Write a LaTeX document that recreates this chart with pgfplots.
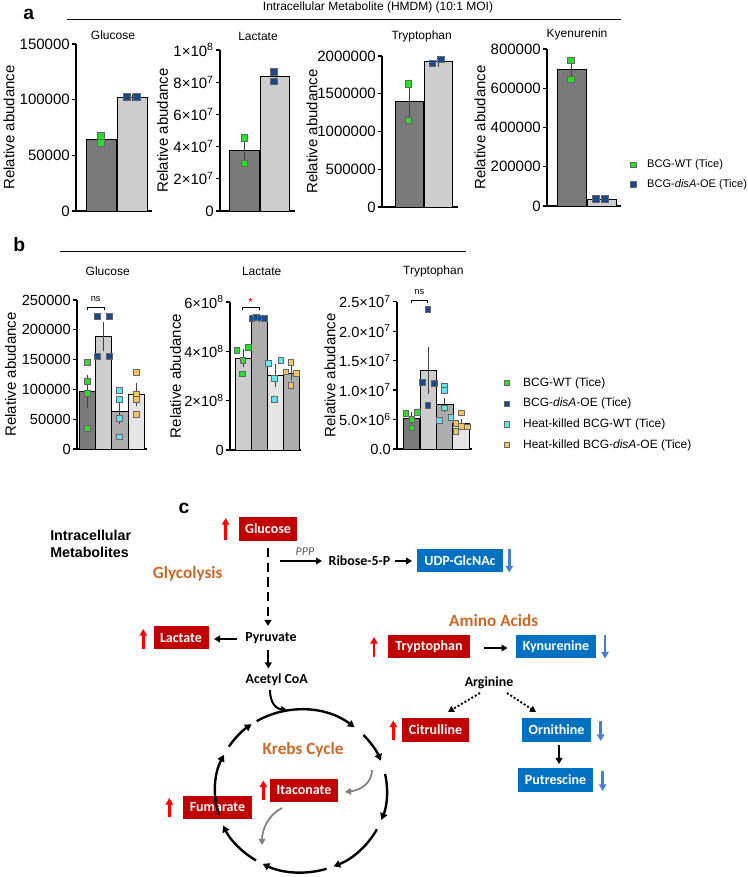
\documentclass[border=0pt]{standalone}
\usepackage{fontspec}
\setmainfont{Liberation Sans}
\newfontfamily\carl{Carlito}
\usepackage{pgfplots}
\pgfplotsset{compat=1.18}
\usetikzlibrary{arrows.meta}

\definecolor{gDark}{HTML}{7A7A7A}
\definecolor{gLight}{HTML}{CDCDCD}
\definecolor{gMid}{HTML}{ADADAD}
\definecolor{gVLight}{HTML}{E6E6E6}
\definecolor{cGreen}{RGB}{40,222,40}
\definecolor{cBlue}{RGB}{25,75,140}
\definecolor{cCyan}{RGB}{95,230,240}
\definecolor{cOrange}{RGB}{246,196,96}
\definecolor{boxRed}{HTML}{C00000}
\definecolor{boxBlue}{HTML}{0070C0}
\definecolor{upRed}{HTML}{FF0000}
\definecolor{dnBlue}{HTML}{4A7CD0}
\definecolor{txtOrange}{HTML}{C8692A}

\pgfplotsset{
  base/.style={scale only axis, anchor=south west, clip=false,
    axis x line*=bottom, axis y line*=left,
    axis line style={line width=0.9pt, black},
    xtick=\empty, ymin=0, xmin=0,
    tick align=outside, major tick length=3pt,
    every tick/.style={black, line width=0.9pt},
    yticklabel style={font=\fontsize{11.25}{12}\selectfont, inner sep=1.5pt},
  },
  ylab/.style={ylabel={Relative abudance},
    every axis y label/.style={at={(axis description cs:#1,0.5)}, rotate=90, anchor=center, font=\fontsize{11.25}{12}\selectfont}},
  errA/.style={forget plot, draw=none, mark=none, error bars/.cd, y dir=both, y explicit,
    error bar style={draw=black!75, line width=0.6pt},
    error mark options={draw=black!75, mark size=2.6pt, line width=0.6pt}},
  errB/.style={forget plot, draw=none, mark=none, error bars/.cd, y dir=both, y explicit,
    error bar style={draw=black!75, line width=0.5pt},
    error mark options={draw=black!75, mark size=2pt, line width=0.5pt}},
  ptA/.style={forget plot, only marks, mark=square*, mark size=2.5pt, mark options={fill=#1, draw=black!60, line width=0.4pt}},
  ptB/.style={forget plot, only marks, mark=square*, mark size=2.2pt, mark options={fill=#1, draw=black!60, line width=0.4pt}},
  barA/.style={forget plot, ybar, bar shift=0pt, fill=#1, draw=black, line width=0.6pt},
}

\begin{document}
\begin{tikzpicture}
\useasboundingbox (0,0) rectangle (561pt,657.75pt);

% ================= Panel a =================
\begin{axis}[base, at={(57pt,499.5pt)}, width=57pt, height=125.25pt,
  xmax=76, ymax=150, ytick={0,50,100,150}, yticklabels={0,50000,100000,150000}, ylab=-0.882]
\addplot[barA=gDark, bar width=22.5pt] coordinates {(25,64.25)};
\addplot[barA=gLight, bar width=22.5pt] coordinates {(56.5,102)};
\addplot[errA] coordinates {(25,64.25) +- (0,3.25) (56.5,102) +- (0,0.3)};
\addplot[ptA=cGreen] coordinates {(25,67.5) (25,61)};
\addplot[ptA=cBlue] coordinates {(50.7,102.5) (60.7,102.5)};
\end{axis}

\begin{axis}[base, at={(165pt,499.5pt)}, width=56.25pt, height=120.75pt,
  xmax=75, ymax=100, ytick={0,20,40,60,80,100},
  yticklabels={0,2×10\textsuperscript{7},4×10\textsuperscript{7},6×10\textsuperscript{7},8×10\textsuperscript{7},1×10\textsuperscript{8}}, ylab=-0.767]
\addplot[barA=gDark, bar width=22.1pt] coordinates {(24.5,37.55)};
\addplot[barA=gLight, bar width=22.1pt] coordinates {(55,83.45)};
\addplot[errA] coordinates {(24.5,37.55) +- (0,7.95) (55,83.45) +- (0,2.85)};
\addplot[ptA=cGreen] coordinates {(24.3,45.5) (24.3,29.6)};
\addplot[ptA=cBlue] coordinates {(54,86.3) (54,80.6)};
\end{axis}

\begin{axis}[base, at={(286.5pt,502.5pt)}, width=57pt, height=113.25pt,
  xmax=76, ymax=2000, ytick={0,500,1000,1500,2000},
  yticklabels={0,500000,1000000,1500000,2000000}, ylab=-0.921]
\addplot[barA=gDark, bar width=21pt] coordinates {(27,1393)};
\addplot[barA=gLight, bar width=21pt] coordinates {(56,1930)};
\addplot[errA] coordinates {(27,1393) +- (0,243) (56,1930) +- (0,25)};
\addplot[ptA=cGreen] coordinates {(26.3,1636) (26.3,1150)};
\addplot[ptA=cBlue] coordinates {(50.3,1905) (59,1955)};
\end{axis}

\begin{axis}[base, at={(410.25pt,503.25pt)}, width=55.5pt, height=117.75pt,
  xmax=74, ymax=800, ytick={0,200,400,600,800},
  yticklabels={0,200000,400000,600000,800000}, ylab=-0.905,
  legend style={draw=none, fill=none, at={(axis description cs:1.125,0.31)}, anchor=north west,
    font=\fontsize{8.3}{9.5}\selectfont, row sep=4.2pt, inner sep=0pt, nodes={inner sep=1.5pt},
    /tikz/every odd column/.append style={column sep=7pt}},
  legend cell align=left,
  legend image code/.code={\draw[#1] plot coordinates {(0pt,0pt)};}]
\addplot[barA=gDark, bar width=21.75pt] coordinates {(24.5,694.5)};
\addplot[barA=gLight, bar width=21.75pt] coordinates {(54.5,36)};
\addplot[errA] coordinates {(24.5,694.5) +- (0,48.5) (54.5,36) +- (0,1)};
\addplot[ptA=cGreen] coordinates {(24,743) (24,646)};
\addplot[ptA=cBlue] coordinates {(49,36) (58,36)};
\addlegendimage{only marks, mark=square*, mark size=2pt, mark options={fill=cGreen, draw=black!60, line width=0.4pt}}
\addlegendentry{BCG-WT (Tice)}
\addlegendimage{only marks, mark=square*, mark size=2pt, mark options={fill=cBlue, draw=black!60, line width=0.4pt}}
\addlegendentry{BCG-\textit{disA}-OE (Tice)}
\end{axis}

% ================= Panel b =================
\begin{axis}[base, at={(57.75pt,321pt)}, width=52.5pt, height=111.75pt,
  xmax=70, ymax=250, ytick={0,50,100,150,200,250},
  yticklabels={0,50000,100000,150000,200000,250000}, ylab=-0.95,
  yticklabel style={font=\fontsize{11}{12}\selectfont}]
\addplot[barA=gDark, bar width=12.2pt, line width=0.5pt] coordinates {(10.2,96.5)};
\addplot[barA=gLight, bar width=12.2pt, line width=0.5pt] coordinates {(26.5,189)};
\addplot[barA=gMid, bar width=12.2pt, line width=0.5pt] coordinates {(42.8,63.5)};
\addplot[barA=gVLight, bar width=12.2pt, line width=0.5pt] coordinates {(59.1,91)};
\addplot[errB] coordinates {(10.2,96.5) +- (0,23.1) (26.5,189) +- (0,19.6) (42.8,63.5) +- (0,17.3) (59.1,91) +- (0,14.5)};
\addplot[ptB=cGreen] coordinates {(10.3,145) (10.3,113) (10.3,93) (10.3,35)};
\addplot[ptB=cBlue] coordinates {(20.7,223) (32,223) (20.7,155) (32,155)};
\addplot[ptB=cCyan] coordinates {(42.3,98.3) (42.3,83.5) (42.3,51.6) (42.3,20.6)};
\addplot[ptB=cOrange] coordinates {(59,129) (59,92) (59,84) (59,58.8)};
\end{axis}

\begin{axis}[base, at={(172.5pt,320.25pt)}, width=53.25pt, height=111pt,
  xmax=71, ymax=6, ytick={0,2,4,6},
  yticklabels={0,2×10\textsuperscript{8},4×10\textsuperscript{8},6×10\textsuperscript{8}}, ylab=-0.768,
  yticklabel style={font=\fontsize{11}{12}\selectfont}]
\addplot[barA=gLight, bar width=12pt, line width=0.5pt] coordinates {(13,3.73)};
\addplot[barA=gMid, bar width=12pt, line width=0.5pt] coordinates {(29,5.33)};
\addplot[barA=gVLight, bar width=12pt, line width=0.5pt] coordinates {(45,3.03)};
\addplot[barA=gMid, bar width=12pt, line width=0.5pt] coordinates {(61,3.12)};
\addplot[errB] coordinates {(13,3.73) +- (0,0.243) (29,5.33) +- (0,0.015) (45,3.03) +- (0,0.358) (61,3.12) +- (0,0.19)};
\addplot[ptB=cGreen] coordinates {(6.7,4.04) (18.3,4.17) (12.7,3.63) (12.3,3.09)};
\addplot[ptB=cBlue] coordinates {(21.7,5.33) (26,5.39) (30,5.36) (34.3,5.33)};
\addplot[ptB=cCyan] coordinates {(38.3,3.51) (50.7,3.64) (44.3,2.91) (44.3,2.07)};
\addplot[ptB=cOrange] coordinates {(60.7,3.56) (55.7,3.17) (66,3.11) (60.7,2.63)};
\end{axis}

\begin{axis}[base, at={(297.75pt,321pt)}, width=56.25pt, height=110.5pt,
  xmax=75, ymax=25, ytick={0,5,10,15,20,25},
  yticklabels={0.0,5.0×10\textsuperscript{6},1.0×10\textsuperscript{7},1.5×10\textsuperscript{7},2.0×10\textsuperscript{7},2.5×10\textsuperscript{7}}, ylab=-0.893,
  yticklabel style={font=\fontsize{11}{12}\selectfont},
  legend style={draw=none, fill=none, at={(axis description cs:1.42,0.5)}, anchor=north west,
    font=\fontsize{9}{10.5}\selectfont, row sep=4.5pt, inner sep=0pt, nodes={inner sep=1.5pt},
    /tikz/every odd column/.append style={column sep=9pt}},
  legend cell align=left,
  legend image code/.code={\draw[#1] plot coordinates {(0pt,0pt)};}]
\addplot[barA=gDark, bar width=12.4pt, line width=0.5pt] coordinates {(14.3,5.24)};
\addplot[barA=gLight, bar width=12.4pt, line width=0.5pt] coordinates {(31.3,13.3)};
\addplot[barA=gMid, bar width=12.4pt, line width=0.5pt] coordinates {(47.7,7.5)};
\addplot[barA=gVLight, bar width=12.4pt, line width=0.5pt] coordinates {(64,4.3)};
\addplot[errB] coordinates {(14.3,5.24) +- (0,0.6) (31.3,13.3) +- (0,3.5) (47.7,7.5) +- (0,0.75) (64,4.3) +- (0,0.35)};
\addplot[ptB=cGreen] coordinates {(8.7,6.05) (20.3,6.22) (14.7,5.08) (14.7,3.61)};
\addplot[ptB=cBlue] coordinates {(30.7,23.68) (25.3,11.3) (37,11.14) (30.7,7.46)};
\addplot[ptB=cCyan] coordinates {(47.3,10.73) (47.3,10.0) (47.3,7.0) (42,4.92) (53.7,5.31)};
\addplot[ptB=cOrange] coordinates {(64,6.15) (58.7,4.35) (64,3.9) (70.3,3.78) (58.7,3.05)};
\addlegendimage{only marks, mark=square*, mark size=2pt, mark options={fill=cGreen, draw=black!60, line width=0.4pt}}
\addlegendentry{BCG-WT (Tice)}
\addlegendimage{only marks, mark=square*, mark size=2pt, mark options={fill=cBlue, draw=black!60, line width=0.4pt}}
\addlegendentry{BCG-\textit{disA}-OE (Tice)}
\addlegendimage{only marks, mark=square*, mark size=2pt, mark options={fill=cCyan, draw=black!60, line width=0.4pt}}
\addlegendentry{Heat-killed BCG-WT (Tice)}
\addlegendimage{only marks, mark=square*, mark size=2pt, mark options={fill=cOrange, draw=black!60, line width=0.4pt}}
\addlegendentry{Heat-killed BCG-\textit{disA}-OE (Tice)}
\end{axis}

% ================= Annotations & panel c (pixel coordinates) =================
\begin{scope}[x=0.75pt, y=-0.75pt, shift={(0pt,657.75pt)}]
% panel a header
\node[font=\bfseries\fontsize{14.5}{16}\selectfont, anchor=base west, inner sep=0pt] at (23,20) {a};
\draw[line width=1.1pt] (67,19.5) -- (621,19.5);
\node[font=\fontsize{9}{10}\selectfont, inner sep=0pt] at (378,7) {Intracellular Metabolite (HMDM) (10:1 MOI)};
\node[font=\fontsize{9}{10}\selectfont, inner sep=0pt] at (113,35.5) {Glucose};
\node[font=\fontsize{9}{10}\selectfont, inner sep=0pt] at (258,36) {Lactate};
\node[font=\fontsize{9}{10}\selectfont, inner sep=0pt] at (421.7,36) {Tryptophan};
\node[font=\fontsize{9}{10}\selectfont, inner sep=0pt] at (577,34) {Kyenurenin};
% panel b header
\node[font=\bfseries\fontsize{14.5}{16}\selectfont, anchor=base west, inner sep=0pt] at (13,251.5) {b};
\draw[line width=1.1pt] (60,251.5) -- (466,251.5);
\node[font=\fontsize{9}{10}\selectfont, inner sep=0pt] at (107.7,271.7) {Glucose};
\node[font=\fontsize{9}{10}\selectfont, inner sep=0pt] at (261.7,271.7) {Lactate};
\node[font=\fontsize{9}{10}\selectfont, inner sep=0pt] at (433.3,271.7) {Tryptophan};
% significance
\draw[line width=0.5pt] (87.3,310) -- (87.3,307.3) -- (104,307.3) -- (104,310);
\node[font=\fontsize{7}{8}\selectfont, inner sep=0pt] at (95.7,299.5) {ns};
\draw[line width=0.5pt] (242.3,310) -- (242.3,307.3) -- (259.3,307.3) -- (259.3,310);
\node[font=\fontsize{9}{10}\selectfont, text=red, inner sep=0pt] at (250.7,302.5) {*};
\draw[line width=0.5pt] (411,303) -- (411,300) -- (427.7,300) -- (427.7,303);
\node[font=\fontsize{7}{8}\selectfont, inner sep=0pt] at (419.3,292.5) {ns};

% ---------- panel c ----------
\tikzset{
  box/.style={text=white, font=\carl\bfseries\fontsize{10.5}{12}\selectfont, inner sep=0pt},
  rb/.style={box, fill=boxRed},
  bb/.style={box, fill=boxBlue},
  up/.style={upRed, line width=2pt, -{Triangle[length=5pt,width=5.5pt]}},
  dn/.style={dnBlue, line width=2pt, -{Triangle[length=5pt,width=5.5pt]}},
  blk/.style={black, line width=1.7pt, -{Triangle[length=4.5pt,width=5pt]}},
  lbl/.style={font=\carl\bfseries\fontsize{10.4}{12}\selectfont, inner sep=0pt},
  org/.style={font=\carl\bfseries\fontsize{12.9}{14}\selectfont, text=txtOrange, inner sep=0pt},
}
\node[font=\bfseries\fontsize{14.5}{16}\selectfont, anchor=base west, inner sep=0pt] at (178.3,513.3) {c};
\node[font=\bfseries\fontsize{10.7}{12}\selectfont, anchor=west, inner sep=0pt] at (50,535) {Intracellular};
\node[font=\bfseries\fontsize{10.7}{12}\selectfont, anchor=west, inner sep=0pt] at (50,552) {Metabolites};

\node[rb, minimum width=43.5pt, minimum height=18pt] at (268,529) {Glucose};
\node[rb, minimum width=41.25pt, minimum height=17.25pt] at (181,638) {Lactate};
\node[bb, minimum width=64.5pt, minimum height=17.25pt] at (460,561) {UDP-GlcNAc};
\node[rb, minimum width=61.5pt, minimum height=17.25pt] at (429,646.5) {Tryptophan};
\node[bb, minimum width=60pt, minimum height=17.25pt] at (556,646.5) {Kynurenine};
\node[rb, minimum width=50.25pt, minimum height=18pt] at (435.5,730) {Citrulline};
\node[bb, minimum width=51.75pt, minimum height=18pt] at (556.5,730) {Ornithine};
\node[bb, minimum width=56.25pt, minimum height=18pt] at (555.5,780) {Putrescine};
\node[rb, minimum width=51pt, minimum height=17.25pt] at (304,790.5) {Itaconate};
\node[rb, minimum width=51.75pt, minimum height=17.25pt] at (217.5,807.5) {Fumarate};

\draw[up] (225.7,540) -- (225.7,518);
\draw[up] (143.3,649) -- (143.3,629);
\draw[up] (374,657.5) -- (374,637);
\draw[up] (393.3,740) -- (393.3,720.5);
\draw[up] (263.3,800.5) -- (263.3,780.5);
\draw[up] (169.3,817.5) -- (169.3,798);
\draw[dn] (509.3,549) -- (509.3,572.5);
\draw[dn] (605,635) -- (605,658.5);
\draw[dn] (600.7,721) -- (600.7,741);
\draw[dn] (602.7,771) -- (602.7,791);

\node[org] at (187.7,574) {Glycolysis};
\node[org] at (303,750) {Krebs Cycle};
\node[org] at (493.7,621) {Amino Acids};
\node[font=\carl\itshape\fontsize{9}{10}\selectfont, text=black!65, inner sep=0pt] at (305,552) {PPP};
\node[lbl] at (359.5,561) {Ribose-5-P};
\node[lbl] at (271,637.7) {Pyruvate};
\node[lbl] at (276.7,680) {Acetyl CoA};
\node[lbl] at (489,682.7) {Arginine};

\draw[blk] (280,561) -- (322,561);
\draw[blk] (395,561) -- (412,561);
\draw[blk] (237,639) -- (214,639);
\draw[blk] (268.3,650) -- (268.3,668.5);
\draw[blk] (484,648) -- (507.5,648);
\draw[blk] (559,745) -- (559,764);
\draw[black, line width=1.7pt, dash pattern=on 7pt off 4pt, -{Triangle[length=4.5pt,width=5pt]}] (268,548) -- (268,626);
\draw[black, line width=1.4pt, dash pattern=on 1.5pt off 1.5pt, -{Triangle[length=4.5pt,width=5pt]}] (480,693) -- (448,712);
\draw[black, line width=1.4pt, dash pattern=on 1.5pt off 1.5pt, -{Triangle[length=4.5pt,width=5pt]}] (507,693) -- (536,712);
\draw[black, line width=1.5pt, -{Triangle[length=4.5pt,width=5pt]}] (270,690) .. controls (270,704) and (277,709) .. (287,710);
\draw[black!50, line width=1.3pt, -{Triangle[length=4.5pt,width=5pt]}] (372,770) .. controls (372,782) and (362,790) .. (345,792);
\draw[black!50, line width=1.3pt, -{Triangle[length=4.5pt,width=5pt]}] (282,808) .. controls (268,815) and (262,830) .. (262,845);

\coordinate (K) at (301,791);
\foreach \a/\b in {147/125, 121/51.5, 43.5/21.8, 12/-20.8, -28/-67.7, -72.7/-116.5, -121.5/-155, -163/-206.4}{
  \draw[black, line width=1.8pt, -{Triangle[length=5pt,width=5.5pt]}] ([shift={(\a:64.5pt and 61.1pt)}]K) arc[start angle=\a, end angle=\b, x radius=64.5pt, y radius=61.1pt];
}
\end{scope}
\end{tikzpicture}
\end{document}
